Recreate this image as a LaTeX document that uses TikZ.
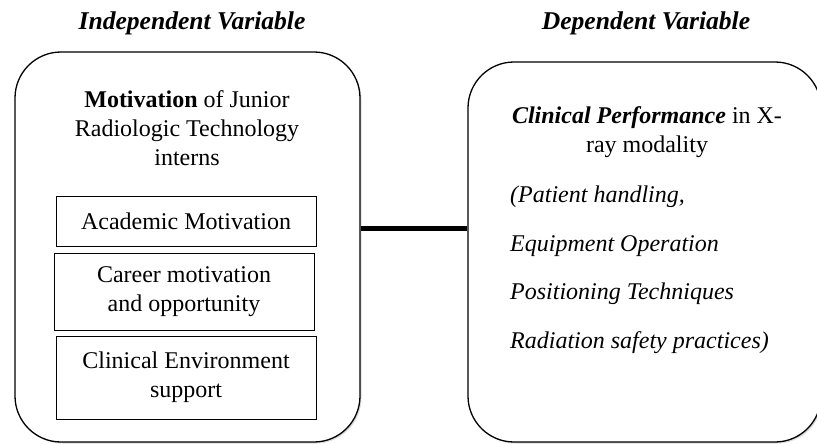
\documentclass[tikz,border=0pt]{standalone}
\usepackage{fontspec}
\setmainfont{Liberation Serif}
\usetikzlibrary{shadows}

\begin{document}
\begin{tikzpicture}[x=1pt, y=-1pt,
	varbox/.style={draw, line width=1.3pt, rounded corners=46pt, fill=white, drop shadow={opacity=0.3, shadow xshift=1.5pt, shadow yshift=-1.5pt}},
	factor/.style={draw, line width=0.7pt, minimum width=260pt, align=center, inner sep=0pt, font=\fontsize{24}{29}\selectfont},
	body/.style={font=\fontsize{24}{29}\selectfont},
	heading/.style={font=\fontsize{25.6}{29}\selectfont\bfseries\itshape},
	link/.style={line width=5pt}]
			\useasboundingbox (0,0) rectangle (817,444);
			% Headings
			\node[heading] (ivtitle) at (192,23) {Independent Variable};
			\node[heading] (dvtitle) at (646,23) {Dependent Variable};
			% Outer variable boxes
			\node[varbox, minimum width=345pt, minimum height=390pt] (iv) at (187.5,247) {};
			\node[varbox, minimum width=353pt, minimum height=380pt] (dv) at (644.5,252) {};
			
			% Independent variable and its factors
			\node[body, align=center] (ivname) at (187,128) {\textbf{Motivation} of Junior\\Radiologic Technology\\interns};
			\node[factor, minimum height=50pt] (acad) at (186,221) {Academic Motivation};
			\node[factor, minimum height=77pt] (career) at (184,291.5) {Career motivation\\and opportunity};
			\node[factor, minimum height=83pt] (clin) at (186,377.5) {Clinical Environment\\support};
			
			% Dependent variable and its areas
			\node[body, align=center] (dvname) at (647,132) {\textbf{\textit{Clinical Performance}} in X-\\ray modality};
			\node[anchor=west, align=left, inner sep=0pt, font=\fontsize{24}{48.5}\selectfont\itshape] (areas) at (510,270) {(Patient handling,\\Equipment Operation\\Positioning Techniques\\Radiation safety practices)};
			
			% Link between the two variables
			\coordinate (mid) at (414,228);
			\draw[link] (iv.east |- mid) -- (dv.west |- mid);
		\end{tikzpicture}
\end{document}
